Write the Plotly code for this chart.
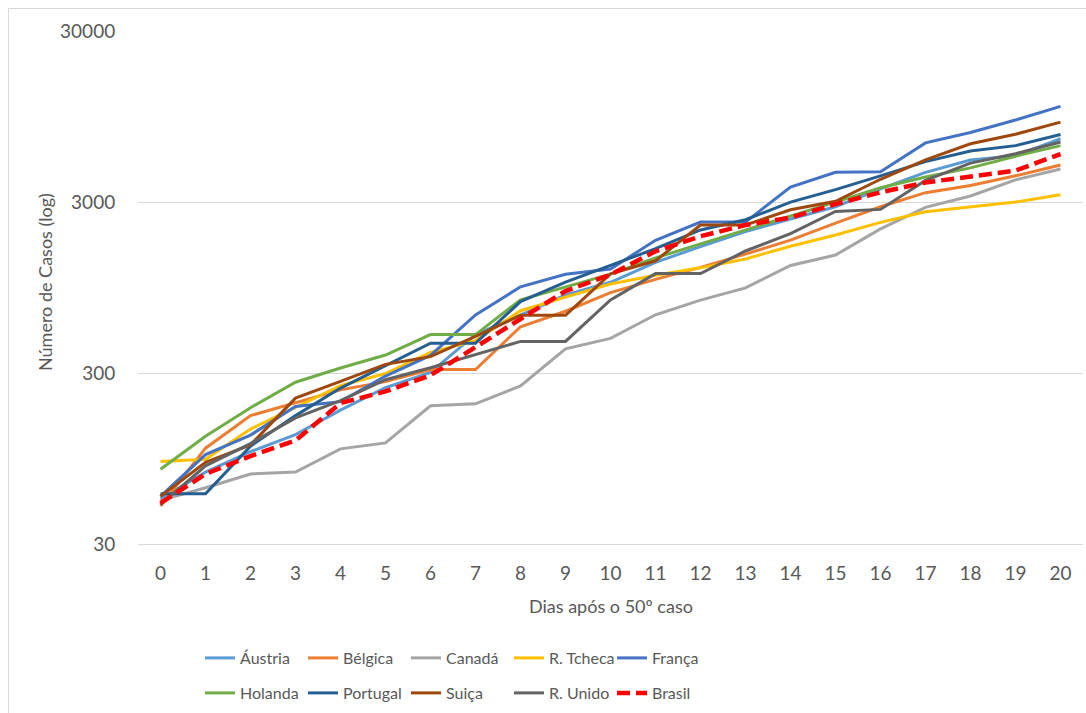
import plotly.graph_objects as go

# Days since the 50th confirmed case
dias = list(range(21))

# Cumulative confirmed cases per country
austria = [55, 79, 104, 131, 182, 246, 302, 504, 655, 860, 1018, 1332, 1646, 2013, 2388, 2814, 3582, 4474, 5283, 5588, 7029]
belgica = [50, 109, 169, 200, 239, 267, 314, 314, 559, 689, 886, 1058, 1243, 1486, 1795, 2257, 2815, 3401, 3743, 4269, 4937]
canada = [54, 64, 77, 79, 108, 117, 193, 198, 252, 415, 478, 657, 800, 943, 1277, 1469, 2088, 2790, 3251, 4042, 4682]
tcheca = [91, 94, 141, 189, 253, 298, 396, 464, 694, 833, 995, 1120, 1236, 1394, 1654, 1925, 2279, 2631, 2817, 3001, 3308]
franca = [57, 100, 130, 191, 204, 288, 380, 656, 957, 1134, 1217, 1792, 2289, 2289, 3672, 4480, 4513, 6650, 7652, 9043, 10871]
holanda = [82, 128, 188, 265, 321, 382, 503, 503, 804, 959, 1135, 1413, 1705, 2051, 2460, 2994, 3631, 4204, 4749, 5560, 6412]
portugal = [59, 59, 112, 169, 245, 331, 448, 448, 785, 1020, 1280, 1600, 2060, 2362, 2995, 3544, 4268, 5170, 5962, 6408, 7443]
suica = [57, 90, 114, 214, 268, 337, 374, 491, 652, 652, 1139, 1359, 2200, 2200, 2700, 3028, 4075, 5294, 6575, 7474, 8795]
unido = [51, 86, 116, 164, 207, 274, 322, 384, 459, 459, 802, 1144, 1145, 1551, 1960, 2642, 2716, 4014, 5067, 5745, 6726]
brasil = [52, 77, 98, 121, 200, 234, 291, 428, 621, 904, 1128, 1546, 1891, 2201, 2433, 2915, 3417, 3904, 4256, 4579, 5717]

y_ticks = [30, 300, 3000, 30000]
y_tick_labels = ["30", "300", "3000", "30000"]

series = [
    ("Áustria", austria, "#5B9BD5", "legend"),
    ("Bélgica", belgica, "#ED7D31", "legend"),
    ("Canadá", canada, "#A5A5A5", "legend"),
    ("R. Tcheca", tcheca, "#FFC000", "legend"),
    ("França", franca, "#4472C4", "legend"),
    ("Holanda", holanda, "#70AD47", "legend2"),
    ("Portugal", portugal, "#255E91", "legend2"),
    ("Suiça", suica, "#9E480E", "legend2"),
    ("R. Unido", unido, "#636363", "legend2"),
]

FONT = "Lato"
TXT = "#595959"

fig = go.Figure()
for name, vals, color, lg in series:
    fig.add_trace(go.Scatter(
        x=dias, y=vals, name=name, mode="lines",
        line=dict(color=color, width=3),
        legend=lg,
    ))

fig.add_trace(go.Scatter(
    x=dias, y=brasil, name="Brasil", mode="lines",
    line=dict(color="#FF0000", width=4.5, dash="13px,6px"),
    legend="legend2",
))

W, H = 1086, 713
L, R, T, B = 138, 3, 31, 169
pw, ph = W - L - R, H - T - B


def px(x):
    return (x - L) / pw


def py(y):
    return (H - B - y) / ph


legend_common = dict(
    orientation="h", xanchor="left", yanchor="middle",
    entrywidth=58, entrywidthmode="pixels",
    font=dict(family=FONT, size=16, color=TXT),
    bgcolor="rgba(0,0,0,0)", borderwidth=0,
    traceorder="normal",
)

fig.update_layout(
    width=W, height=H,
    margin=dict(l=L, r=R, t=T, b=B, pad=0),
    paper_bgcolor="white", plot_bgcolor="white",
    font=dict(family=FONT, color=TXT),
    showlegend=True,
    legend=dict(x=px(200), y=py(658), **legend_common),
    legend2=dict(x=px(200), y=py(693), **legend_common),
    xaxis=dict(
        range=[-0.5, 20.5], tickmode="array", tickvals=dias,
        ticktext=[str(d) for d in dias],
        showgrid=False, zeroline=False,
        showline=True, linecolor="#D9D9D9", linewidth=1,
        ticks="outside", ticklen=12, tickcolor="rgba(0,0,0,0)",
        tickfont=dict(family=FONT, size=19, color=TXT),
    ),
    yaxis=dict(
        type="log", range=[1.4771213, 4.4771213],
        tickmode="array", tickvals=y_ticks, ticktext=y_tick_labels,
        showgrid=True, gridcolor="#D9D9D9", gridwidth=1,
        zeroline=False, showline=False,
        ticks="outside", ticklen=18, tickcolor="rgba(0,0,0,0)",
        tickfont=dict(family=FONT, size=19, color=TXT),
    ),
    annotations=[
        dict(text="Número de Casos (log)", xref="paper", yref="paper",
             x=px(45), y=py(282), textangle=-90, showarrow=False,
             xanchor="center", yanchor="middle",
             font=dict(family=FONT, size=18, color=TXT)),
        dict(text="Dias após o 50º caso", xref="paper", yref="paper",
             x=px(611), y=py(606), showarrow=False,
             xanchor="center", yanchor="middle",
             font=dict(family=FONT, size=18, color=TXT)),
    ],
    shapes=[
        dict(type="line", xref="paper", yref="paper",
             x0=px(8.5), x1=px(8.5), y0=py(8.5), y1=py(H),
             line=dict(color="#D9D9D9", width=1)),
        dict(type="line", xref="paper", yref="paper",
             x0=px(8.5), x1=px(W), y0=py(8.5), y1=py(8.5),
             line=dict(color="#D9D9D9", width=1)),
    ],
)

fig.write_html("out.html")
